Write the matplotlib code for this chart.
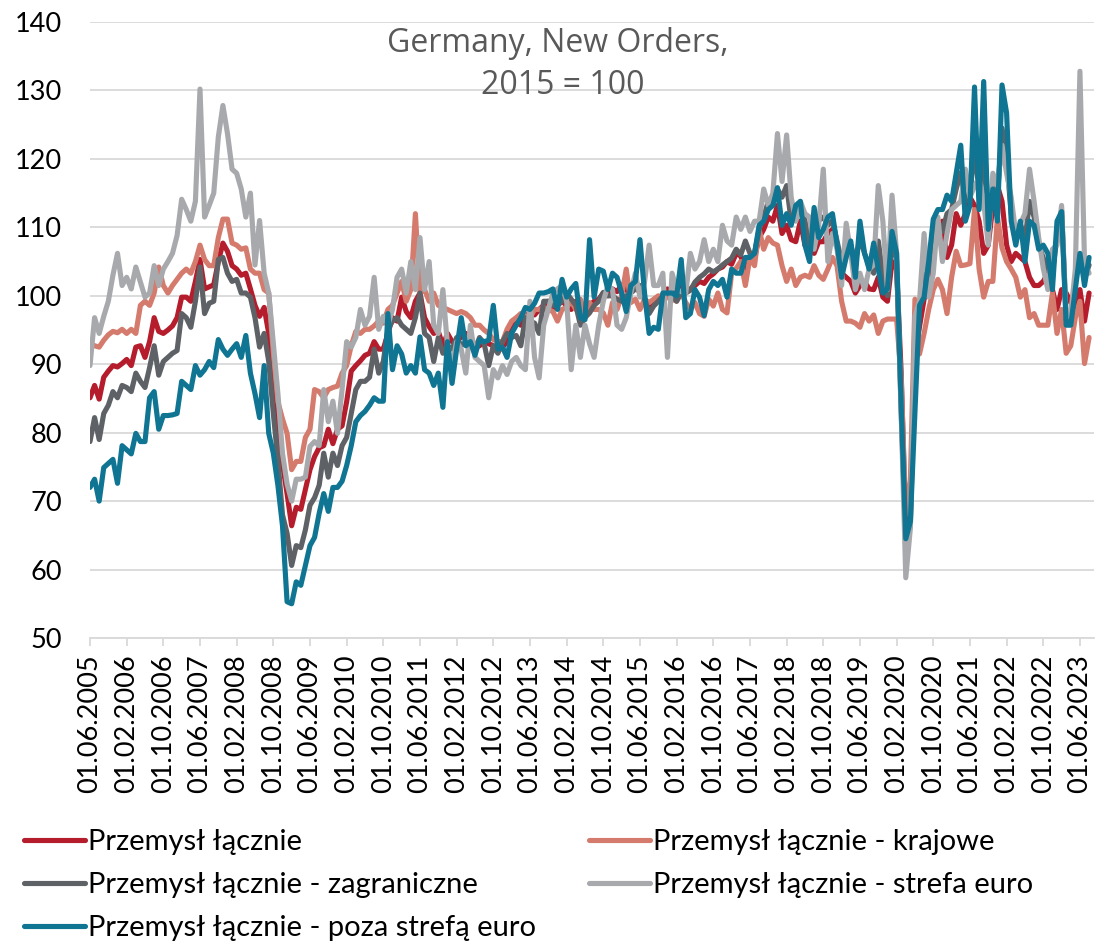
import matplotlib
matplotlib.use("Agg")
import matplotlib.pyplot as plt
import numpy as np

# monthly index values, 01.06.2005 .. 01.08.2023
total = [
    85.1, 86.9, 84.9, 88.1, 89.0, 89.8, 89.6, 90.1, 90.7, 89.8, 92.5, 92.7,
    91.0, 93.3, 96.8, 94.8, 94.5, 95.0, 95.6, 96.8, 99.8, 99.8, 99.2, 102.1,
    105.3, 101.0, 101.3, 101.6, 105.0, 107.7, 106.5, 104.4, 103.9, 103.0, 103.3, 101.0,
    98.6, 97.0, 98.3, 94.5, 88.7, 82.0, 75.5, 71.1, 66.4, 69.1, 68.8, 71.7,
    74.6, 76.5, 77.8, 78.1, 80.5, 78.4, 80.5, 81.0, 84.5, 89.0, 89.8, 90.5,
    91.3, 91.6, 93.3, 92.2, 92.2, 94.5, 96.8, 96.3, 99.8, 97.7, 96.8, 99.2,
    100.4, 96.8, 95.5, 94.5, 94.8, 92.7, 94.5, 93.3, 93.3, 94.0, 94.5, 93.9,
    92.5, 92.7, 93.3, 93.0, 92.7, 91.9, 92.5, 93.3, 95.1, 96.3, 95.7, 96.8,
    97.7, 97.2, 98.0, 98.6, 99.2, 98.0, 98.6, 99.2, 98.6, 98.0, 99.2, 96.8,
    98.0, 98.5, 99.2, 99.5, 100.4, 100.0, 101.0, 100.6, 101.6, 100.8, 101.0, 101.5,
    100.4, 99.6, 98.6, 99.0, 99.2, 100.2, 101.0, 100.5, 100.4, 101.5, 100.6, 101.0,
    101.5, 102.1, 101.8, 102.7, 103.2, 103.9, 104.2, 105.0, 104.6, 106.2, 105.8, 103.9,
    105.0, 105.6, 108.5, 109.7, 111.5, 110.9, 113.2, 109.1, 110.3, 108.2, 107.9, 110.9,
    107.4, 106.8, 106.2, 107.9, 107.9, 109.1, 109.7, 107.4, 103.3, 102.7, 102.1, 100.4,
    101.5, 102.1, 101.0, 100.9, 102.7, 99.8, 99.2, 105.0, 103.9, 88.7, 65.8, 68.2,
    91.0, 95.5, 99.5, 101.5, 107.4, 108.0, 110.9, 105.6, 107.4, 112.0, 110.3, 112.0,
    114.4, 113.2, 110.9, 106.2, 107.4, 113.2, 116.1, 113.8, 107.4, 105.0, 106.2, 105.6,
    105.0, 102.7, 101.5, 101.5, 102.1, 103.3, 100.9, 98.0, 100.9, 100.4, 99.0, 98.0,
    100.9, 96.3, 100.4,
]

domestic = [
    93.0, 92.7, 92.5, 93.5, 94.3, 94.8, 94.6, 95.1, 94.5, 95.1, 94.5, 98.6,
    99.2, 98.6, 100.4, 104.2, 101.5, 100.4, 101.5, 102.4, 103.3, 103.9, 103.3, 105.0,
    107.4, 105.3, 104.4, 104.4, 108.5, 111.2, 111.2, 107.7, 107.4, 106.8, 107.0, 103.9,
    103.3, 103.3, 100.9, 100.4, 91.6, 84.5, 82.0, 79.9, 74.6, 75.8, 75.8, 79.3,
    80.5, 86.3, 86.0, 85.1, 86.3, 86.6, 86.8, 88.7, 89.8, 92.7, 94.8, 94.5,
    95.1, 95.1, 95.6, 96.3, 96.0, 98.0, 98.6, 100.4, 102.1, 99.2, 100.9, 112.0,
    100.4, 100.9, 99.2, 100.4, 98.6, 98.3, 98.0, 97.7, 97.4, 97.7, 97.4, 96.8,
    95.7, 95.7, 95.0, 94.5, 93.6, 93.3, 93.3, 95.1, 96.3, 96.8, 97.4, 97.0,
    96.8, 98.0, 98.0, 98.3, 98.0, 97.7, 96.3, 98.0, 98.3, 99.2, 98.0, 99.5,
    97.0, 99.0, 98.0, 98.0, 97.5, 95.7, 99.0, 98.0, 100.0, 103.9, 99.0, 99.5,
    98.0, 99.5, 99.0, 99.5, 100.0, 99.0, 100.0, 99.5, 99.2, 100.5, 99.0, 98.0,
    99.0, 97.4, 97.0, 99.5, 98.5, 100.4, 98.0, 97.5, 103.3, 104.0, 105.0, 101.5,
    105.6, 104.4, 109.7, 106.8, 108.5, 107.7, 107.4, 104.4, 102.1, 103.9, 101.5, 102.7,
    103.0, 102.7, 104.4, 103.0, 102.4, 103.9, 105.6, 104.4, 99.2, 96.3, 96.3, 96.0,
    95.4, 97.4, 96.3, 97.2, 94.5, 96.3, 96.6, 96.6, 96.6, 88.0, 68.0, 73.0,
    99.5, 91.5, 94.5, 98.0, 100.9, 102.4, 100.9, 97.4, 102.7, 106.5, 104.4, 104.5,
    104.7, 112.6, 103.9, 99.8, 102.1, 102.1, 111.5, 107.0, 105.0, 103.9, 102.7, 99.8,
    100.9, 96.8, 97.4, 95.7, 95.7, 95.7, 100.4, 94.5, 98.0, 91.6, 92.7, 96.8,
    99.2, 90.1, 93.9,
]

foreign = [
    78.7, 82.2, 79.0, 82.8, 84.0, 86.0, 85.1, 86.9, 86.6, 86.0, 88.7, 87.5,
    86.6, 89.5, 92.7, 88.4, 90.4, 91.0, 91.6, 92.0, 97.4, 96.8, 95.4, 99.2,
    104.2, 97.4, 98.9, 99.2, 105.3, 105.6, 103.3, 102.1, 102.4, 100.4, 100.4, 99.8,
    96.8, 92.5, 94.5, 90.4, 82.8, 76.0, 68.0, 65.3, 60.6, 63.5, 63.2, 65.8,
    69.4, 70.5, 72.3, 77.0, 73.5, 77.0, 75.2, 78.1, 79.3, 82.8, 86.3, 87.5,
    87.5, 88.1, 92.2, 88.7, 90.4, 95.1, 96.3, 96.8, 95.7, 95.1, 94.5, 96.8,
    100.4, 94.5, 93.9, 90.4, 93.9, 91.6, 92.7, 92.2, 93.9, 92.7, 93.3, 92.7,
    92.2, 93.9, 93.0, 89.8, 92.7, 91.6, 93.3, 94.5, 93.9, 94.2, 92.7, 96.8,
    96.3, 96.0, 94.5, 99.2, 99.2, 98.6, 98.6, 99.2, 100.4, 99.5, 98.6, 95.7,
    96.8, 97.5, 98.6, 99.2, 100.5, 100.0, 100.0, 99.5, 99.2, 100.0, 100.4, 101.0,
    101.5, 99.5, 97.4, 98.5, 99.2, 100.0, 100.4, 100.0, 99.2, 100.5, 100.4, 100.8,
    102.0, 102.7, 103.2, 103.9, 103.5, 103.9, 104.5, 105.0, 105.5, 106.8, 106.0, 108.0,
    106.2, 106.2, 109.7, 111.5, 113.8, 113.2, 115.6, 114.4, 116.1, 110.9, 112.0, 112.6,
    111.0, 107.4, 109.1, 111.0, 111.5, 110.3, 111.0, 108.0, 105.0, 106.0, 107.4, 105.0,
    108.5, 106.2, 104.5, 103.3, 108.0, 103.0, 100.0, 108.5, 105.0, 83.0, 63.5, 66.4,
    91.0, 98.0, 103.0, 103.5, 108.5, 110.9, 109.4, 112.0, 112.6, 115.6, 118.0, 113.8,
    114.5, 122.0, 115.0, 121.0, 110.0, 116.5, 114.4, 124.5, 120.0, 112.0, 108.5, 110.5,
    108.0, 113.8, 111.5, 107.5, 105.5, 103.9, 103.5, 108.5, 112.5, 96.5, 96.5, 102.0,
    106.0, 102.5, 104.5,
]

euro_area = [
    89.8, 96.8, 94.5, 97.0, 99.2, 103.0, 106.2, 101.5, 102.7, 101.0, 104.2, 102.0,
    99.8, 100.4, 104.4, 101.5, 103.9, 105.0, 106.2, 108.8, 114.1, 112.6, 110.9, 113.8,
    130.2, 111.5, 113.2, 115.0, 123.2, 127.8, 123.7, 118.5, 117.9, 115.6, 111.5, 115.0,
    104.5, 111.0, 103.3, 100.4, 93.0, 85.7, 77.0, 72.5, 70.0, 73.2, 73.2, 73.5,
    78.0, 78.7, 78.1, 86.3, 81.6, 84.6, 79.9, 86.3, 93.3, 92.5, 93.9, 98.0,
    95.7, 97.0, 102.7, 95.1, 97.0, 95.7, 98.0, 102.7, 103.9, 100.4, 105.0, 100.9,
    108.5, 100.9, 105.0, 95.7, 94.5, 100.9, 92.7, 89.8, 93.3, 92.2, 88.7, 95.7,
    91.0, 90.4, 89.8, 85.1, 89.2, 88.0, 89.8, 88.5, 90.4, 91.0, 89.8, 89.2,
    99.2, 91.0, 88.0, 95.7, 98.0, 100.4, 101.0, 101.5, 99.2, 89.2, 95.7, 91.0,
    95.7, 93.0, 91.0, 95.7, 99.2, 101.5, 100.9, 95.7, 95.1, 96.8, 100.4, 103.3,
    99.8, 102.0, 107.4, 101.5, 101.5, 103.3, 91.0, 103.3, 100.9, 100.6, 100.4, 106.2,
    103.9, 105.0, 108.2, 105.0, 106.8, 105.0, 110.3, 108.0, 107.4, 111.5, 109.7, 111.5,
    109.4, 110.9, 110.9, 115.6, 113.2, 115.0, 123.7, 116.7, 123.5, 114.4, 110.9, 113.8,
    112.0, 111.5, 106.8, 110.3, 118.5, 105.0, 109.1, 106.8, 101.5, 110.6, 106.2, 100.9,
    103.3, 100.9, 103.9, 104.5, 116.1, 110.9, 100.9, 114.7, 106.2, 82.8, 58.8, 66.0,
    97.0, 99.2, 109.1, 99.8, 103.3, 111.5, 105.0, 109.1, 112.6, 113.2, 113.8, 118.5,
    114.4, 116.0, 117.3, 113.8, 107.4, 117.9, 116.1, 122.0, 117.9, 114.4, 109.1, 110.5,
    112.0, 118.5, 113.8, 108.5, 104.0, 100.9, 106.8, 107.4, 113.2, 96.8, 97.4, 103.9,
    132.8, 105.0, 103.3,
]

non_euro = [
    72.0, 73.2, 70.0, 74.9, 75.5, 76.1, 72.6, 78.1, 77.5, 76.9, 79.9, 78.7,
    78.7, 85.1, 86.0, 80.5, 82.5, 82.5, 82.6, 82.8, 87.5, 86.9, 86.3, 89.8,
    88.4, 89.2, 90.4, 89.5, 93.6, 92.2, 91.3, 92.2, 93.0, 91.0, 94.2, 88.7,
    85.7, 82.2, 89.8, 79.9, 77.0, 72.3, 66.4, 55.3, 55.0, 58.2, 57.7, 60.6,
    63.5, 64.7, 68.2, 71.1, 68.5, 72.0, 72.0, 72.9, 75.2, 78.1, 81.6, 82.5,
    83.1, 84.0, 85.1, 84.6, 84.6, 97.4, 89.2, 92.7, 91.5, 88.7, 89.8, 88.7,
    94.0, 89.2, 88.7, 86.9, 88.7, 83.7, 93.3, 87.2, 92.2, 96.8, 92.7, 93.3,
    91.3, 93.6, 93.3, 93.5, 98.6, 92.2, 92.5, 91.0, 94.5, 95.7, 96.8, 98.3,
    98.0, 98.9, 100.4, 100.4, 100.6, 101.0, 98.0, 102.4, 99.8, 101.0, 101.8, 96.8,
    96.5, 108.2, 99.8, 103.9, 103.6, 100.9, 103.3, 102.7, 100.4, 97.7, 101.5, 102.1,
    108.2, 100.4, 94.5, 95.4, 95.1, 100.4, 100.4, 100.4, 100.0, 105.3, 96.8, 97.4,
    100.9, 99.8, 97.1, 100.9, 102.1, 101.5, 102.4, 99.8, 103.9, 103.3, 103.3, 105.6,
    105.6, 106.2, 110.3, 110.9, 112.6, 113.2, 115.8, 110.3, 112.0, 110.3, 113.2, 113.8,
    107.4, 105.0, 112.9, 108.5, 109.7, 111.5, 112.0, 107.5, 102.7, 105.6, 108.0, 102.7,
    110.9, 106.2, 103.9, 107.7, 103.9, 100.4, 101.0, 109.4, 106.2, 84.0, 64.5, 67.0,
    83.0, 98.6, 99.8, 105.0, 111.2, 112.6, 112.6, 114.7, 113.8, 117.9, 122.0, 110.9,
    113.2, 130.5, 112.6, 131.3, 109.7, 115.6, 110.9, 130.8, 126.7, 110.9, 107.4, 110.9,
    105.0, 110.9, 110.3, 106.8, 107.4, 106.2, 100.9, 110.9, 112.3, 95.7, 95.7, 100.9,
    106.2, 101.5, 105.6,
]

tick_labels = [
    "01.06.2005", "01.02.2006", "01.10.2006", "01.06.2007", "01.02.2008",
    "01.10.2008", "01.06.2009", "01.02.2010", "01.10.2010", "01.06.2011",
    "01.02.2012", "01.10.2012", "01.06.2013", "01.02.2014", "01.10.2014",
    "01.06.2015", "01.02.2016", "01.10.2016", "01.06.2017", "01.02.2018",
    "01.10.2018", "01.06.2019", "01.02.2020", "01.10.2020", "01.06.2021",
    "01.02.2022", "01.10.2022", "01.06.2023",
]

names = [
    "Przemysł łącznie",
    "Przemysł łącznie - krajowe",
    "Przemysł łącznie - zagraniczne",
    "Przemysł łącznie - strefa euro",
    "Przemysł łącznie - poza strefą euro",
]
colors = ["#B51C2C", "#D57B6D", "#5E6266", "#A7A9AC", "#0F7593"]
series = [total, domestic, foreign, euro_area, non_euro]

for s in series:
    assert len(s) == 219, len(s)

plt.rcParams["font.family"] = ["Lato", "DejaVu Sans"]

W, H = 1096, 942
fig = plt.figure(figsize=(W / 100, H / 100), dpi=100)
x0, x1 = 90, 90 + 219 * 4.583
ax = fig.add_axes([x0 / W, 1 - 638 / H, (x1 - x0) / W, (638 - 22) / H])

x = np.arange(219)
lines = []
for s, c, n in zip(series, colors, names):
    ln, = ax.plot(x, s, color=c, lw=3.7, label=n, solid_joinstyle="round",
                  solid_capstyle="round")
    lines.append(ln)

ax.set_xlim(0, 219)
ax.set_ylim(50, 140)
ax.set_yticks(np.arange(50, 141, 10))
ax.grid(axis="y", color="#D9D9D9", lw=1.3)
ax.set_axisbelow(True)
for sp in ["left", "right", "top"]:
    ax.spines[sp].set_visible(False)
ax.spines["bottom"].set_color("#D9D9D9")
ax.spines["bottom"].set_linewidth(1.3)

ax.set_xticks(np.arange(0, 217, 8))
ax.set_xticklabels(tick_labels, rotation=90, fontsize=19.5, color="black")
ax.tick_params(axis="x", length=6, width=1.3, color="#D9D9D9", pad=6)
ax.tick_params(axis="y", length=0, pad=20, labelsize=19.5, labelcolor="black")

fig.text(558 / W, 1 - 43 / H, "Germany, New Orders,", ha="center", va="center",
         fontsize=23, color="#595959", family=["Open Sans", "DejaVu Sans"])
fig.text(563 / W, 1 - 85 / H, "2015 = 100", ha="center", va="center",
         fontsize=23, color="#595959", family=["Open Sans", "DejaVu Sans"])

leg_kw = dict(frameon=False, fontsize=21, handlelength=2.1, handletextpad=0.1,
              labelspacing=0.58, borderpad=0, borderaxespad=0, loc="upper left")
leg1 = fig.legend([lines[0], lines[2], lines[4]], [names[0], names[2], names[4]],
                  bbox_to_anchor=(24 / W, 1 - 829 / H), **leg_kw)
leg2 = fig.legend([lines[1], lines[3]], [names[1], names[3]],
                  bbox_to_anchor=(589 / W, 1 - 829 / H), **leg_kw)

fig.savefig("out.png", dpi=100)
